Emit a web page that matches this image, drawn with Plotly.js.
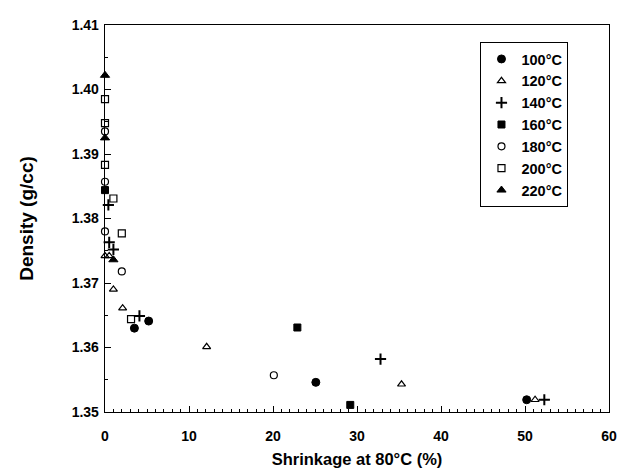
<!DOCTYPE html>
<html>
<head>
<meta charset="utf-8">
<script src="https://cdn.plot.ly/plotly-3.0.1.min.js"></script>
<style>html,body{margin:0;padding:0;background:#fff;}#chart{width:627px;height:474px;}</style>
</head>
<body>
<div id="chart"></div>
<script>
// Series data (x: shrinkage at 80°C in %, y: density in g/cc)
const seriesNames = ["100°C", "120°C", "140°C", "160°C", "180°C", "200°C", "220°C"];

const x100 = [3.5, 5.2, 25.1, 50.2];
const y100 = [1.3630, 1.3641, 1.3546, 1.3519];

const x120 = [0, 0.5, 1.0, 2.1, 12.1, 35.3, 51.2];
const y120 = [1.3742, 1.3742, 1.3690, 1.3661, 1.3601, 1.3543, 1.3519];

const x140 = [0.4, 0.5, 1.0, 4.1, 32.8, 52.3];
const y140 = [1.3821, 1.3763, 1.3752, 1.3649, 1.3582, 1.3519];

const x160 = [0, 22.9, 29.2];
const y160 = [1.3844, 1.3631, 1.3511];

const x180 = [0, 0, 0, 2.0, 20.1];
const y180 = [1.3935, 1.3857, 1.3780, 1.3718, 1.3557];

const x200 = [0, 0, 0, 1.0, 2.0, 3.1];
const y200 = [1.3985, 1.3948, 1.3883, 1.3831, 1.3777, 1.3644];

const x220 = [0, 0, 1.0];
const y220 = [1.4022, 1.3925, 1.3736];

const xTickVals = [0, 10, 20, 30, 40, 50, 60];
const yTickVals = [1.35, 1.36, 1.37, 1.38, 1.39, 1.40, 1.41];
const yTickText = ["1.35", "1.36", "1.37", "1.38", "1.39", "1.40", "1.41"];

const FONT = "Liberation Sans, Arial, sans-serif";
const symbols = ["circle", "triangle-up-open", "cross-thin-open", "square", "circle-open", "square-open", "triangle-up"];
const sizes = [8, 7, 8, 7, 7, 7, 8];
const lineWidths = [1, 1.2, 2, 1, 1.2, 1.2, 1];
const xs = [x100, x120, x140, x160, x180, x200, x220];
const ys = [y100, y120, y140, y160, y180, y200, y220];

const traces = seriesNames.map((name, i) => ({
  type: "scatter",
  mode: "markers",
  name: name,
  x: xs[i],
  y: ys[i],
  cliponaxis: false,
  marker: {
    symbol: symbols[i],
    size: sizes[i],
    color: "#000",
    line: {color: "#000", width: lineWidths[i]}
  }
}));

const layout = {
  width: 627,
  height: 474,
  margin: {l: 105, r: 18, t: 25, b: 62},
  paper_bgcolor: "#fff",
  plot_bgcolor: "#fff",
  showlegend: true,
  legend: {
    x: 0.745, y: 0.956, xanchor: "left", yanchor: "top",
    bgcolor: "#fff", bordercolor: "#000", borderwidth: 1,
    font: {family: FONT, size: 14.5, color: "#000", weight: "bold"},
    itemwidth: 30,
    tracegroupgap: 0
  },
  xaxis: {
    range: [0, 60],
    tickvals: xTickVals,
    ticks: "inside", ticklen: 6, tickwidth: 1, tickcolor: "#000",
    minor: {dtick: 1, ticks: "inside", ticklen: 3, tickcolor: "#000", tickwidth: 1},
    showline: true, linecolor: "#000", linewidth: 1.3, mirror: true,
    showgrid: false, zeroline: false,
    ticklabelstandoff: 11,
    tickfont: {family: FONT, size: 14, color: "#000", weight: "bold"},
    title: {text: "Shrinkage at 80°C (%)", font: {family: FONT, size: 16.5, color: "#000", weight: "bold"}, standoff: 10}
  },
  yaxis: {
    range: [1.35, 1.41],
    tickvals: yTickVals,
    ticktext: yTickText,
    ticks: "inside", ticklen: 6, tickwidth: 1, tickcolor: "#000",
    minor: {dtick: 0.005, ticks: "inside", ticklen: 3, tickcolor: "#000", tickwidth: 1},
    showline: true, linecolor: "#000", linewidth: 1.3, mirror: true,
    showgrid: false, zeroline: false,
    ticklabelstandoff: 2,
    tickfont: {family: FONT, size: 14, color: "#000", weight: "bold"},
    title: {text: "Density (g/cc)", font: {family: FONT, size: 19, color: "#000", weight: "bold"}, standoff: 33}
  }
};

Plotly.newPlot("chart", traces, layout, {displayModeBar: false, staticPlot: true});
</script>
</body>
</html>
